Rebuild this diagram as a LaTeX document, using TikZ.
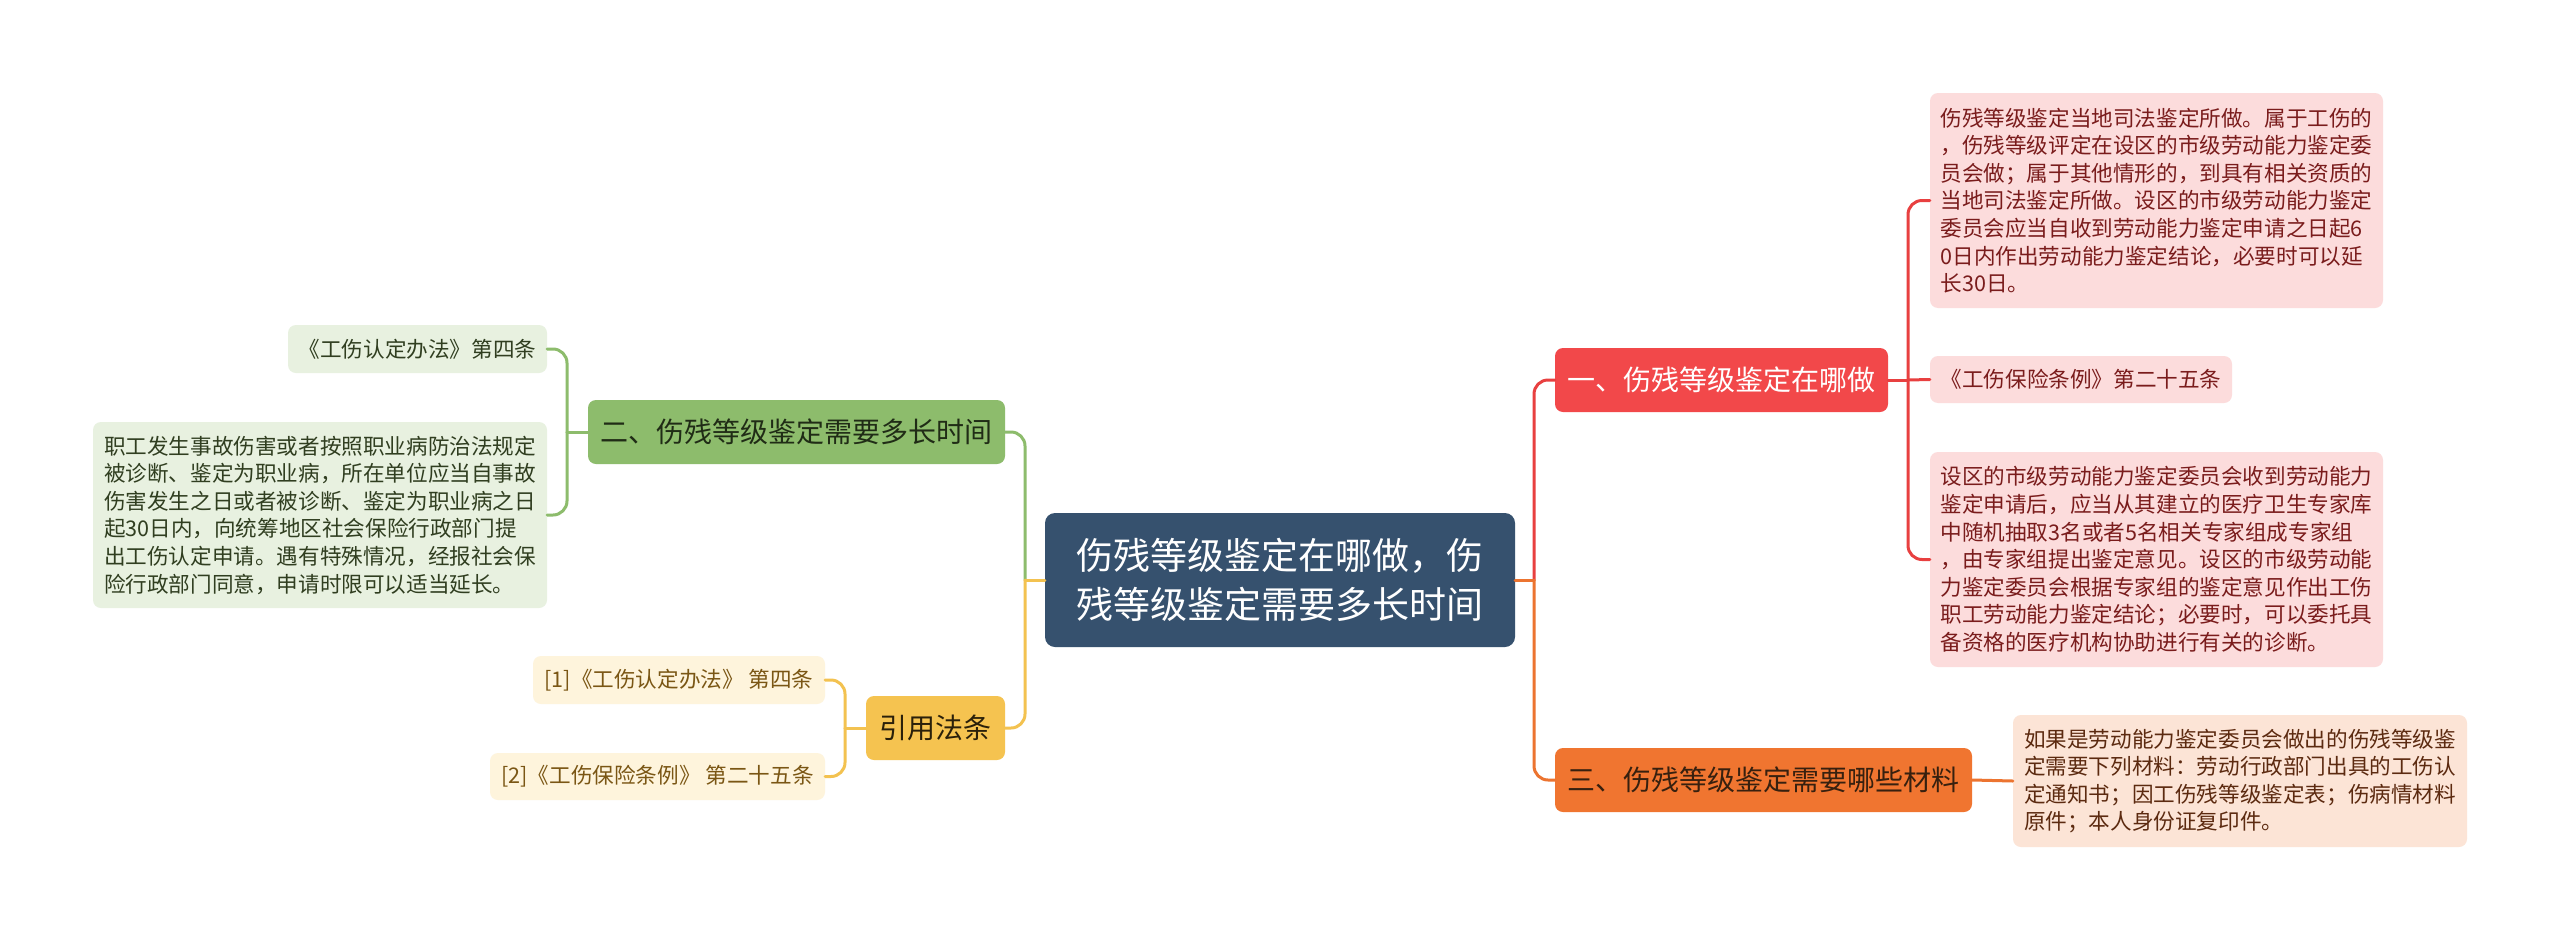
\documentclass[tikz,border=0pt]{standalone}
\usepackage{fontspec}
\setmainfont{Noto Sans CJK SC}
\usetikzlibrary{calc}
\definecolor{cBlue}{RGB}{54,81,110}
\definecolor{cRed}{RGB}{242,72,74}
\definecolor{cRedL}{RGB}{232,64,64}
\definecolor{cRedLeaf}{RGB}{252,220,220}
\definecolor{cRedTxt}{RGB}{122,28,28}
\definecolor{cOra}{RGB}{240,117,48}
\definecolor{cOraL}{RGB}{236,116,48}
\definecolor{cOraLeaf}{RGB}{252,228,214}
\definecolor{cOraTxt}{RGB}{92,42,16}
\definecolor{cOraBTxt}{RGB}{55,32,15}
\definecolor{cGrn}{RGB}{141,188,108}
\definecolor{cGrnLeaf}{RGB}{232,241,224}
\definecolor{cGrnTxt}{RGB}{48,62,32}
\definecolor{cGrnBTxt}{RGB}{32,44,22}
\definecolor{cYel}{RGB}{245,195,80}
\definecolor{cYelL}{RGB}{243,194,80}
\definecolor{cYelLeaf}{RGB}{254,244,220}
\definecolor{cYelTxt}{RGB}{122,86,20}
\definecolor{cYelBTxt}{RGB}{42,32,10}
\tikzset{
  box/.style={rounded corners=8pt, inner sep=0pt, align=left},
  central/.style={box, fill=cBlue, text=white, minimum width=470pt, minimum height=134pt,
    font=\fontsize{37}{49}\selectfont, rounded corners=10pt},
  branch/.style={box, minimum height=64pt, font=\fontsize{28}{34}\selectfont},
  leaf/.style={box, font=\fontsize{21.6}{27.6}\selectfont},
  leafR/.style={leaf, fill=cRedLeaf, text=cRedTxt},
  leafO/.style={leaf, fill=cOraLeaf, text=cOraTxt},
  leafG/.style={leaf, fill=cGrnLeaf, text=cGrnTxt},
  leafY/.style={leaf, fill=cYelLeaf, text=cYelTxt},
  con/.style={line width=3pt, line cap=round},
  conR/.style={con, draw=cRedL},
  conO/.style={con, draw=cOraL},
  conG/.style={con, draw=cGrn},
  conY/.style={con, draw=cYelL},
  rc/.style={rounded corners=14pt}
}
\begin{document}
\begin{tikzpicture}[x=1pt,y=-1pt]
\useasboundingbox[fill=white] (0,0) rectangle (2560,940);

% central and branches
\node[central] (c) at (1280,580) {伤残等级鉴定在哪做，伤\\残等级鉴定需要多长时间};
\node[branch, fill=cRed, text=white, minimum width=333pt] (r1) at (1721.5,380) {一、伤残等级鉴定在哪做};
\node[branch, fill=cOra, text=cOraBTxt, minimum width=417pt] (r3) at (1763.5,780) {三、伤残等级鉴定需要哪些材料};
\node[branch, fill=cGrn, text=cGrnBTxt, minimum width=417pt] (g) at (796.5,432) {二、伤残等级鉴定需要多长时间};
\node[branch, fill=cYel, text=cYelBTxt, minimum width=139pt] (yb) at (935.5,728) {引用法条};

% leaves
\node[leafR, minimum width=453pt, minimum height=215pt] (rl1) at (2156.5,200.5) {伤残等级鉴定当地司法鉴定所做。属于工伤的\\，伤残等级评定在设区的市级劳动能力鉴定委\\员会做；属于其他情形的，到具有相关资质的\\当地司法鉴定所做。设区的市级劳动能力鉴定\\委员会应当自收到劳动能力鉴定申请之日起6\\0日内作出劳动能力鉴定结论，必要时可以延\\长30日。};
\node[leafR, minimum width=302pt, minimum height=47pt] (rl2) at (2081,379.5) {《工伤保险条例》第二十五条};
\node[leafR, minimum width=453pt, minimum height=215pt] (rl3) at (2156.5,559.5) {设区的市级劳动能力鉴定委员会收到劳动能力\\鉴定申请后，应当从其建立的医疗卫生专家库\\中随机抽取3名或者5名相关专家组成专家组\\，由专家组提出鉴定意见。设区的市级劳动能\\力鉴定委员会根据专家组的鉴定意见作出工伤\\职工劳动能力鉴定结论；必要时，可以委托具\\备资格的医疗机构协助进行有关的诊断。};
\node[leafO, minimum width=454pt, minimum height=132pt] (ol) at (2240,781) {如果是劳动能力鉴定委员会做出的伤残等级鉴\\定需要下列材料：劳动行政部门出具的工伤认\\定通知书；因工伤残等级鉴定表；伤病情材料\\原件；本人身份证复印件。};
\node[leafG, minimum width=259pt, minimum height=48pt] (gl1) at (417.5,349) {《工伤认定办法》第四条};
\node[leafG, minimum width=454pt, minimum height=186pt] (gl2) at (320,515) {职工发生事故伤害或者按照职业病防治法规定\\被诊断、鉴定为职业病，所在单位应当自事故\\伤害发生之日或者被诊断、鉴定为职业病之日\\起30日内，向统筹地区社会保险行政部门提\\出工伤认定申请。遇有特殊情况，经报社会保\\险行政部门同意，申请时限可以适当延长。};
\node[leafY, minimum width=292pt, minimum height=48pt] (yl1) at (679,680) {[1]《工伤认定办法》 第四条};
\node[leafY, minimum width=335pt, minimum height=47pt] (yl2) at (657.5,776.5) {[2]《工伤保险条例》 第二十五条};

% junctions
\coordinate (jR) at (1534,580);
\coordinate (jL) at (1025,580);
\coordinate (jr1) at (1908,380);
\coordinate (jg) at (567,432);
\coordinate (jy) at (845,728);

% connectors: central to branches
\draw[conR, rc] (jR) |- (r1.west);
\draw[conO, rc] (jR) |- (r3.west);
\draw[conO] (c.east) -- (jR);
\draw[conG, rc] (jL) |- (g.east);
\draw[conY, rc] (jL) |- (yb.east);
\draw[conY] (c.west) -- (jL);

% connectors: branches to leaves
\draw[conR] (r1.east) -- (jr1);
\draw[conR, rc] (jr1) |- (rl1.west);
\draw[conR] (jr1) -- (rl2.west);
\draw[conR, rc] (jr1) |- (rl3.west);
\draw[conO] (r3.east) -- (ol.west);
\draw[conG] (g.west) -- (jg);
\draw[conG, rc] (jg) |- (gl1.east);
\draw[conG, rc] (jg) |- (gl2.east);
\draw[conY] (yb.west) -- (jy);
\draw[conY, rc] (jy) |- (yl1.east);
\draw[conY, rc] (jy) |- (yl2.east);
\end{tikzpicture}
\end{document}
